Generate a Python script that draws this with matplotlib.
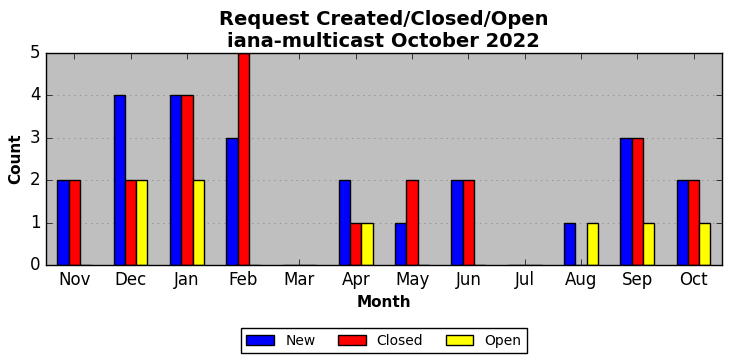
import matplotlib
matplotlib.use('Agg')
import matplotlib.pyplot as plt
import numpy as np

months = ['Nov', 'Dec', 'Jan', 'Feb', 'Mar', 'Apr', 'May', 'Jun', 'Jul', 'Aug', 'Sep', 'Oct']
new = [2, 4, 4, 3, 0, 2, 1, 2, 0, 1, 3, 2]
closed = [2, 2, 4, 5, 0, 1, 2, 2, 0, 0, 3, 2]
opened = [0, 2, 2, 0, 0, 1, 0, 0, 0, 1, 1, 1]

plt.style.use('classic')
fig = plt.figure(figsize=(7.32, 3.61), dpi=100)
ax = fig.add_axes([0.063, 0.266, 0.923, 0.587])
ax.set_facecolor('#bfbfbf')

x = np.arange(len(months))
w = 0.2
ax.bar(x - w, new, w, color='blue', label='New', edgecolor='black')
ax.bar(x, closed, w, color='red', label='Closed', edgecolor='black')
ax.bar(x + w, opened, w, color='yellow', label='Open', edgecolor='black')

ax.set_xlim(-0.5, len(months) - 0.5)
ax.set_ylim(0, 5)
ax.set_xticks(x)
ax.set_xticklabels(months)
ax.yaxis.grid(True, linestyle=':', color='#808080')
ax.set_axisbelow(True)
ax.set_xlabel('Month', fontweight='bold', fontsize=11)
ax.set_ylabel('Count', fontweight='bold', fontsize=11)
ax.set_title('Request Created/Closed/Open\niana-multicast October 2022', fontweight='bold', fontsize=14, y=0.995)
ax.legend(loc='upper center', bbox_to_anchor=(0.5, -0.265), ncol=3, fontsize=10, columnspacing=1.6)

fig.savefig('out.png', dpi=100)
